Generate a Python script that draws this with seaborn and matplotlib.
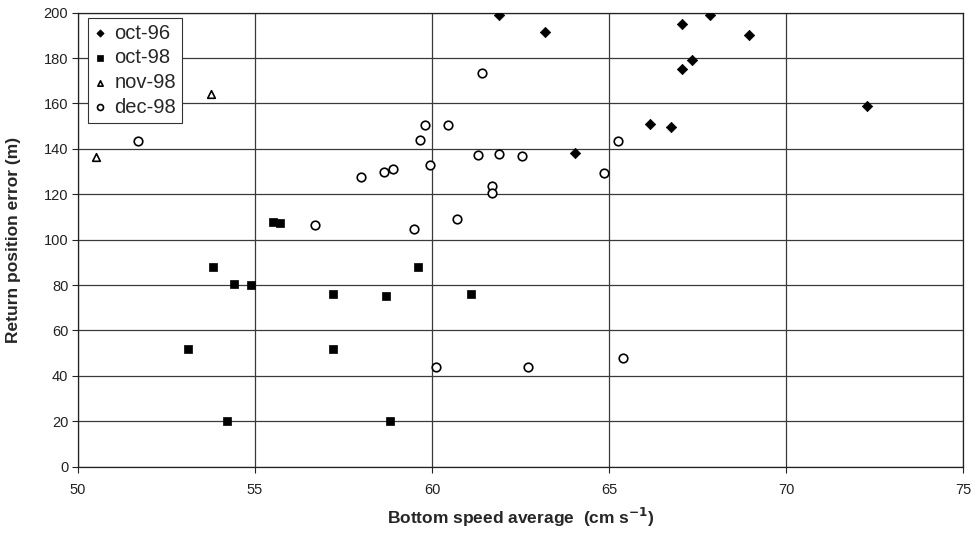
import matplotlib
matplotlib.use("Agg")
import matplotlib.pyplot as plt
import seaborn as sns
import pandas as pd

# Data
oct96_x = [61.9, 63.2, 64.05, 66.15, 66.75, 67.05, 67.05, 67.35, 67.85, 68.95, 72.3]
oct96_y = [199, 191.5, 138.3, 150.8, 149.8, 195, 175, 179.3, 199, 190.3, 159]

oct98_x = [53.1, 53.8, 54.2, 54.4, 54.9, 55.5, 55.7, 57.2, 57.2, 58.7, 58.8, 59.6, 61.1]
oct98_y = [52, 88, 20, 80.3, 80.2, 108, 107.5, 76.2, 52, 75.3, 20, 88, 76]

nov98_x = [50.5, 53.75]
nov98_y = [136.3, 164]

dec98_x = [51.7, 56.7, 58.0, 58.65, 58.9, 59.5, 59.65, 59.8, 59.95, 60.1, 60.45, 60.7,
           61.3, 61.4, 61.7, 61.7, 61.9, 62.55, 62.7, 64.85, 65.25, 65.4]
dec98_y = [143.6, 106.3, 127.8, 129.7, 131.1, 104.8, 143.8, 150.4, 133, 44, 150.4, 109,
           137.2, 173.4, 123.7, 120.7, 137.8, 136.9, 44, 129.4, 143.5, 48]

series_names = ["oct-96", "oct-98", "nov-98", "dec-98"]

sns.set_style("white")
plt.rcParams['font.family'] = ['Liberation Sans', 'DejaVu Sans']

fig = plt.figure(figsize=(9.8, 5.33), dpi=100)
ax = fig.add_axes([0.0796, 0.1244, 0.9031, 0.8518])

styles = {
    "oct-96": dict(marker="D", s=28, color="black", edgecolor="black", linewidth=0.5),
    "oct-98": dict(marker="s", s=28, color="black", edgecolor="black", linewidth=0.5),
    "nov-98": dict(marker="^", s=30, facecolor="white", edgecolor="black", linewidth=1.2),
    "dec-98": dict(marker="o", s=38, facecolor="white", edgecolor="black", linewidth=1.2),
}
xs = [oct96_x, oct98_x, nov98_x, dec98_x]
ys = [oct96_y, oct98_y, nov98_y, dec98_y]

for name, x, y in zip(series_names, xs, ys):
    df = pd.DataFrame({"speed": x, "error": y})
    sns.scatterplot(data=df, x="speed", y="error", ax=ax, label=name, zorder=3,
                    **styles[name])

ax.set_xlim(50, 75)
ax.set_ylim(0, 200)
ax.set_xticks(range(50, 76, 5))
ax.set_yticks(range(0, 201, 20))
ax.grid(True, color="#3a3a3a", linewidth=0.9)
for sp in ax.spines.values():
    sp.set_visible(True)
    sp.set_color("#222222")
    sp.set_linewidth(0.9)
ax.tick_params(axis="both", direction="out", length=4, width=0.8, color="#222222",
               labelsize=10.5, labelcolor="#222222", left=True, bottom=True)
ax.tick_params(axis="x", pad=8)
ax.tick_params(axis="y", pad=3)

ax.set_xlabel(r"Bottom speed average  (cm s$^{\mathbf{-1}}$)", fontsize=12.5,
              fontweight="bold", labelpad=6)
ax.set_ylabel("Return position error (m)", fontsize=12.5, fontweight="bold", labelpad=16)

leg = ax.legend(loc="upper left", bbox_to_anchor=(0.0113, 0.989), fontsize=14.5,
                frameon=True, fancybox=False, edgecolor="#333333", framealpha=1,
                handletextpad=0.4, borderpad=0.3, labelspacing=0.28, handlelength=0.6,
                borderaxespad=0.0, markerscale=0.7)
leg.get_frame().set_linewidth(0.8)

fig.savefig("out.png", dpi=100)
